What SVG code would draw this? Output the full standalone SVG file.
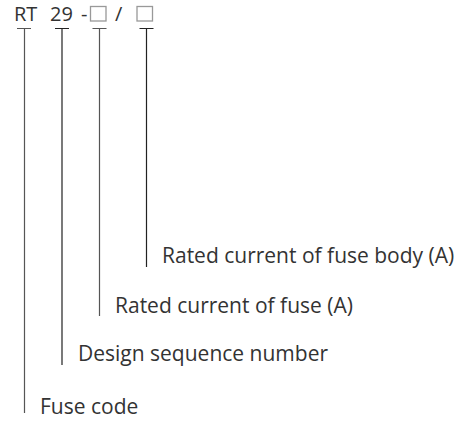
<svg xmlns="http://www.w3.org/2000/svg" width="455" height="421" viewBox="0 0 455 421">
<style>
text{font-family:"Open Sans","Noto Sans",sans-serif;fill:#333}
.h{font-size:20px}
.l{font-size:21px}
.ln{stroke:#555;stroke-width:1.2;fill:none}
.dk{stroke:#222}
.sq{stroke:#999;stroke-width:1.3;fill:none}
</style>
<rect width="455" height="421" fill="#fff"/>
<g id="header">
<text class="h" x="14" y="21">RT</text>
<text class="h" x="50" y="21">29</text>
<text class="h" x="81" y="21">-</text>
<rect class="sq" x="90.5" y="6.5" width="15.5" height="14.5"/>
<text class="h" x="115" y="21">/</text>
<rect class="sq" x="137" y="6.5" width="15.5" height="14.5"/>
</g>
<g id="connectors">
<path class="ln" d="M17 28.5H31M24.5 28.5V413"/>
<path class="ln dk" d="M55 28.5H69M62 28.5V365"/>
<path class="ln" d="M92.5 28.5H106.5M99.5 28.5V316"/>
<path class="ln dk" d="M139.5 28.5H153.5M146.5 28.5V267"/>
</g>
<g id="n-body"><text class="l" x="162" y="263">Rated current of fuse body (A)</text></g>
<g id="n-fuse"><text class="l" x="115" y="313">Rated current of fuse (A)</text></g>
<g id="n-design"><text class="l" x="78" y="361">Design sequence number</text></g>
<g id="n-code"><text class="l" x="40" y="414">Fuse code</text></g>
</svg>
